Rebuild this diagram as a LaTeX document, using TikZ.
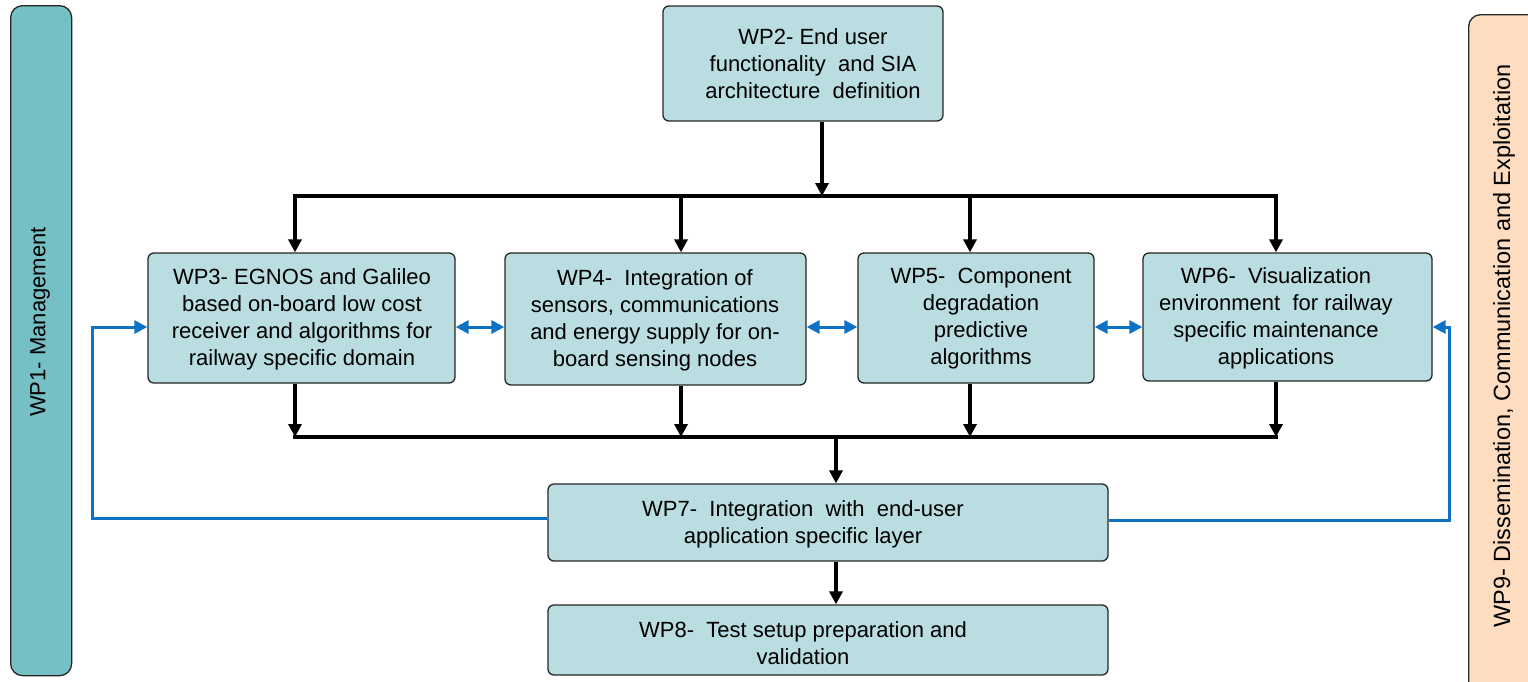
\documentclass[tikz,border=0pt]{standalone}
\usepackage{fontspec}
\setmainfont{Liberation Sans}
\usetikzlibrary{arrows.meta}
\definecolor{boxfill}{HTML}{B9DDE0}
\definecolor{mgmt}{HTML}{74C0C4}
\definecolor{diss}{HTML}{FDDCBF}
\definecolor{blu}{HTML}{0E72C4}
\begin{document}
\begin{tikzpicture}[x=1pt,y=-1pt,
  wp/.style={draw=black!85, line width=1.3pt, rounded corners=6pt, fill=boxfill, inner sep=0pt},
  txt/.style={align=center, inner sep=0pt, font=\fontsize{22}{27}\selectfont},
  arr/.style={line width=3.8pt, -{Triangle[length=13pt,width=13pt]}},
  ln/.style={line width=3.8pt, line cap=rect},
  barr/.style={draw=blu, line width=3pt, line join=miter, -{Triangle[length=13pt,width=13pt]}},
  dbarr/.style={draw=blu, line width=3pt, {Triangle[length=13pt,width=13pt]}-{Triangle[length=13pt,width=13pt]}}]
\useasboundingbox (0,0) rectangle (1528,681);

% side bars
\node[draw=black!85, line width=1.3pt, fill=mgmt, rounded corners=12pt, minimum width=61pt, minimum height=670pt, anchor=north west, inner sep=0pt] (wp1) at (10,5) {};
\node[txt, rotate=90] (wp1t) at (40,322) {WP1- Management};
\begin{scope}
\clip (0,0) rectangle (1528,681);
\node[draw=black!85, line width=1.3pt, fill=diss, rounded corners=12pt, minimum width=100pt, minimum height=720pt, anchor=north west, inner sep=0pt] (wp9) at (1468,14) {};
\end{scope}
\node[txt, rotate=90, font=\fontsize{23.5}{28}\selectfont] (wp9t) at (1504,346) {WP9- Dissemination, Communication and Exploitation};

% boxes
\node[wp, minimum width=280pt, minimum height=115pt] (wp2) at (803,63.5) {};
\node[txt] (wp2t) at (813,63.5) {WP2- End user\\functionality\ \ and SIA\\architecture\ \ definition};

\node[wp, minimum width=307pt, minimum height=130pt] (wp3) at (301.5,318) {};
\node[txt] (wp3t) at (302,319) {WP3- EGNOS and Galileo\\based on-board low cost\\receiver and algorithms for\\railway specific domain};

\node[wp, minimum width=301pt, minimum height=132pt] (wp4) at (655.5,319) {};
\node[txt] (wp4t) at (655,320) {WP4-\ \ Integration of\\sensors, communications\\and energy supply for on-\\board sensing nodes};

\node[wp, minimum width=236pt, minimum height=130pt] (wp5) at (976,318) {};
\node[txt] (wp5t) at (981,319) {WP5-\ \ Component\\degradation\\predictive\\algorithms};

\node[wp, minimum width=289pt, minimum height=128pt] (wp6) at (1287.5,317) {};
\node[txt] (wp6t) at (1276,318) {WP6-\ \ Visualization\\environment\ \ for railway\\specific maintenance\\applications};

\node[wp, minimum width=560pt, minimum height=77pt] (wp7) at (828,522.5) {};
\node[txt] (wp7t) at (803,524) {WP7-\ \ Integration\ \ with\ \ end-user\\application specific layer};

\node[wp, minimum width=560pt, minimum height=70pt] (wp8) at (828,640) {};
\node[txt] (wp8t) at (803,643) {WP8-\ \ Test setup preparation and\\validation};

% top distribution
\coordinate (t2) at (822,196);
\coordinate (a3) at (295,196);
\coordinate (a4) at (681,196);
\coordinate (a5) at (970,196);
\coordinate (a6) at (1276,196);
\draw[arr] (wp2.south -| t2) -- (t2);
\draw[ln] (a3) -- (a6);
\draw[arr] (a3) -- (a3 |- wp3.north);
\draw[arr] (a4) -- (a4 |- wp4.north);
\draw[arr] (a5) -- (a5 |- wp5.north);
\draw[arr] (a6) -- (a6 |- wp6.north);

% bottom collection
\coordinate (b3) at (295,437);
\coordinate (b4) at (681,437);
\coordinate (b5) at (970,437);
\coordinate (b6) at (1276,437);
\coordinate (b7) at (836,437);
\draw[ln] (b3) -- (b6);
\draw[arr] (b3 |- wp3.south) -- (b3);
\draw[arr] (b4 |- wp4.south) -- (b4);
\draw[arr] (b5 |- wp5.south) -- (b5);
\draw[arr] (b6 |- wp6.south) -- (b6);
\draw[arr] (b7) -- (b7 |- wp7.north);
\draw[arr] (b7 |- wp7.south) -- (b7 |- wp8.north);

% blue feedback
\coordinate (m) at (0,327);
\coordinate (bl) at (92,518);
\coordinate (br) at (1449,520);
\draw[barr] (bl -| wp7.west) -- (bl) -- (bl |- m) -- (m -| wp3.west);
\draw[barr] (br -| wp7.east) -- (br) -- (br |- m) -- (m -| wp6.east);
\draw[dbarr] (m -| wp3.east) -- (m -| wp4.west);
\draw[dbarr] (m -| wp4.east) -- (m -| wp5.west);
\draw[dbarr] (m -| wp5.east) -- (m -| wp6.west);
\end{tikzpicture}
\end{document}
